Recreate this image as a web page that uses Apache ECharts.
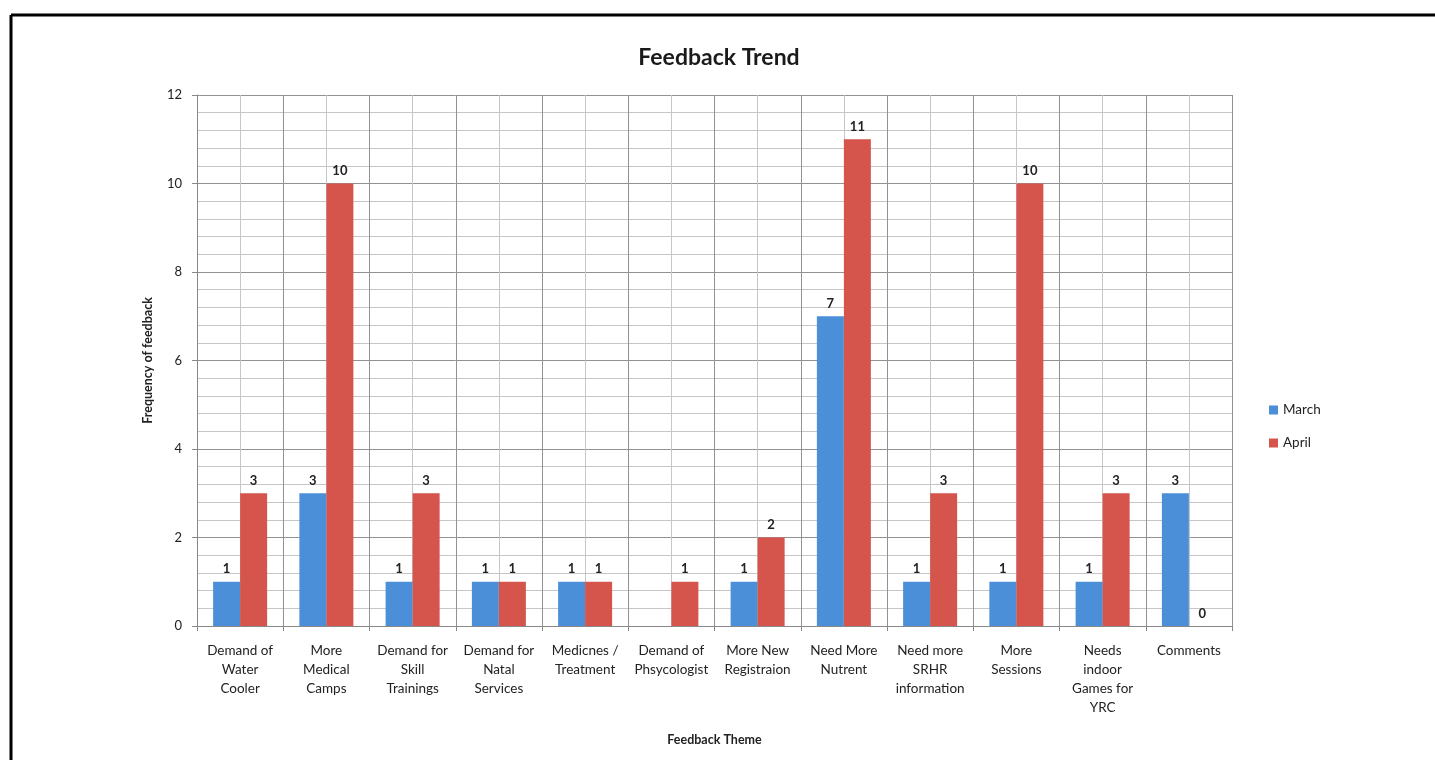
<!doctype html>
<html lang="en">
<head>
<meta charset="UTF-8"/>
<title>Feedback Trend</title>
<script src="https://cdn.jsdelivr.net/npm/echarts@6/dist/echarts.min.js"></script>
<style>
	html, body { margin: 0; padding: 0; background: #fff; }
	#main { width: 1435px; height: 760px; }
</style>
</head>
<body>
	<div id="main"></div>
	<script type="text/javascript">
		// data
		var themes = ['Demand of\nWater\nCooler', 'More\nMedical\nCamps', 'Demand for\nSkill\nTrainings',
			'Demand for\nNatal\nServices', 'Medicnes /\nTreatment', 'Demand of\nPhsycologist',
			'More New\nRegistraion', 'Need More\nNutrent', 'Need more\nSRHR\ninformation',
			'More\nSessions', 'Needs\nindoor\nGames for\nYRC', 'Comments'];
		var march = [1, 3, 1, 1, 1, null, 1, 7, 1, 1, 1, 3];
		var april = [3, 10, 3, 1, 1, 1, 2, 11, 3, 10, 3, 0];
		var yTicks = [0, 2, 4, 6, 8, 10, 12];

		var font = 'Lato, "Open Sans", sans-serif';
		var myChart = echarts.init(document.getElementById('main'));

		var labelStyle = {
			show: true,
			position: 'top',
			distance: 6,
			color: '#222',
			fontFamily: font,
			fontWeight: 'bold',
			fontSize: 13
		};

		var option = {
			backgroundColor: '#fff',
			color: ['#4B8FD8', '#D5554C'],
			title: {
				text: 'Feedback Trend',
				left: 714,
				top: 41,
				textAlign: 'center',
				textStyle: { fontFamily: font, fontWeight: 'bold', fontSize: 23, color: '#1a1a1a' }
			},
			legend: {
				orient: 'vertical',
				left: 1264,
				top: 398,
				itemWidth: 9,
				itemHeight: 9,
				itemGap: 19,
				icon: 'rect',
				textStyle: { fontFamily: font, fontSize: 13.5, color: '#222' },
				data: ['March', 'April']
			},
			grid: { left: 197, right: 203, top: 95, bottom: 134 },
			xAxis: [{
				type: 'category',
				data: themes,
				name: 'Feedback Theme',
				nameLocation: 'middle',
				nameGap: 107,
				nameTextStyle: { fontFamily: font, fontWeight: 'bold', fontSize: 12.5, color: '#222' },
				axisLine: { lineStyle: { color: '#888' } },
				axisTick: { show: true, interval: 0, length: 5, lineStyle: { color: '#888' } },
				axisLabel: { interval: 0, margin: 15, lineHeight: 19, fontFamily: font, fontSize: 13.5, color: '#222' },
				splitLine: { show: false }
			}, {
				// hidden value axis that draws the vertical grid (boundaries + centres)
				type: 'value',
				min: 0,
				max: 12,
				interval: 1,
				position: 'bottom',
				axisLine: { show: false },
				axisTick: { show: false },
				axisLabel: { show: false },
				splitLine: { show: true, lineStyle: { color: '#929292', width: 1 } },
				minorTick: { show: false, splitNumber: 2 },
				minorSplitLine: { show: true, lineStyle: { color: '#c6c6c6', width: 1 } }
			}],
			yAxis: {
				type: 'value',
				min: yTicks[0],
				max: yTicks[yTicks.length - 1],
				interval: 2,
				name: 'Frequency of feedback',
				nameLocation: 'middle',
				nameGap: 43,
				nameTextStyle: { fontFamily: font, fontWeight: 'bold', fontSize: 12.5, color: '#222' },
				axisLine: { show: true, lineStyle: { color: '#888' } },
				axisTick: { show: true, length: 5, lineStyle: { color: '#888' } },
				axisLabel: { margin: 15, fontFamily: font, fontSize: 13, color: '#222' },
				splitLine: { show: true, lineStyle: { color: '#929292' } },
				minorTick: { show: false, splitNumber: 5 },
				minorSplitLine: { show: true, lineStyle: { color: '#c6c6c6' } }
			},
			graphic: [
				{ type: 'line', shape: { x1: 11, y1: 15, x2: 1435, y2: 15 }, style: { stroke: '#000', lineWidth: 3 } },
				{ type: 'line', shape: { x1: 11, y1: 15, x2: 11, y2: 760 }, style: { stroke: '#000', lineWidth: 3 } }
			],
			series: [{
				name: 'March',
				type: 'bar',
				xAxisIndex: 0,
				barWidth: 27,
				barGap: '0%',
				label: labelStyle,
				data: march
			}, {
				name: 'April',
				type: 'bar',
				xAxisIndex: 0,
				barWidth: 27,
				barGap: '0%',
				label: labelStyle,
				data: april
			}]
		};

		myChart.setOption(option);
	</script>
</body>
</html>
